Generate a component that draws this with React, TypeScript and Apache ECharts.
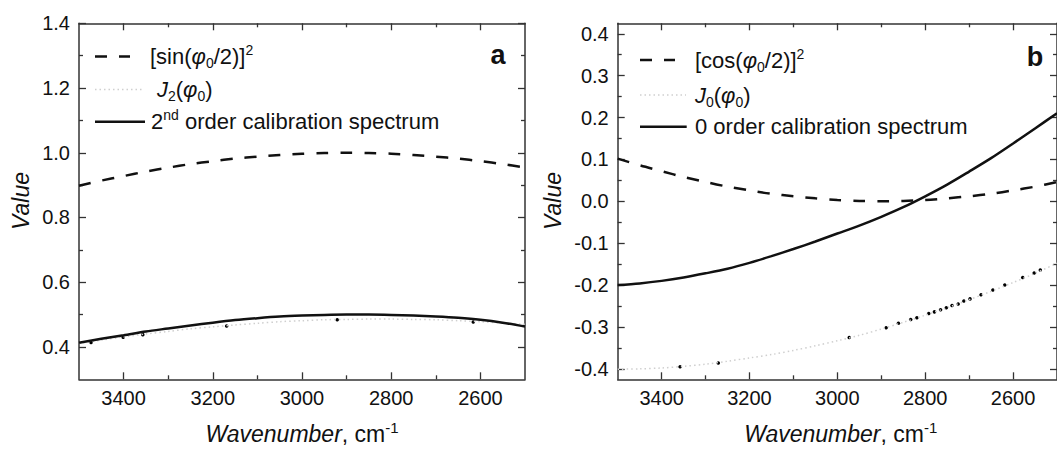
import React, { useEffect, useRef } from 'react';
import * as echarts from 'echarts';

// ---------- data ----------
const wavenumbers = [3500, 3450, 3400, 3350, 3300, 3250, 3200, 3150, 3100, 3050, 3000, 2950, 2900, 2850, 2800, 2750, 2700, 2650, 2600, 2550, 2500];
// panel a
const sinSq = [0.898, 0.914, 0.928, 0.942, 0.954, 0.965, 0.974, 0.982, 0.988, 0.993, 0.997, 0.999, 1.0, 0.999, 0.997, 0.993, 0.988, 0.982, 0.974, 0.965, 0.954];
const j2 = [0.411, 0.421, 0.431, 0.44, 0.448, 0.456, 0.462, 0.468, 0.473, 0.478, 0.481, 0.484, 0.485, 0.486, 0.486, 0.485, 0.484, 0.481, 0.478, 0.474, 0.47];
const cal2 = [0.413, 0.425, 0.436, 0.448, 0.457, 0.466, 0.475, 0.483, 0.489, 0.494, 0.497, 0.499, 0.5, 0.5, 0.499, 0.497, 0.494, 0.49, 0.484, 0.475, 0.463];
const j2Points = [[3473, 0.414], [3401, 0.43], [3357, 0.438], [3169, 0.465], [2921, 0.484], [2616, 0.477]];
// panel b
const cosSq = [0.102, 0.086, 0.072, 0.058, 0.046, 0.035, 0.026, 0.018, 0.012, 0.007, 0.003, 0.001, 0.0, 0.001, 0.003, 0.007, 0.012, 0.018, 0.026, 0.035, 0.046];
const j0 = [-0.401, -0.4, -0.398, -0.394, -0.389, -0.382, -0.374, -0.366, -0.356, -0.345, -0.333, -0.32, -0.305, -0.289, -0.272, -0.254, -0.235, -0.215, -0.194, -0.172, -0.148];
const cal0 = [-0.2, -0.196, -0.19, -0.182, -0.172, -0.161, -0.147, -0.131, -0.114, -0.096, -0.077, -0.058, -0.037, -0.014, 0.012, 0.04, 0.071, 0.103, 0.138, 0.174, 0.21];
const j0Points = [[3358, -0.395], [3271, -0.386], [2973, -0.325], [2889, -0.302], [2861, -0.291], [2833, -0.282], [2819, -0.278], [2792, -0.268], [2779, -0.264], [2765, -0.259], [2752, -0.254], [2739, -0.249], [2725, -0.245], [2712, -0.238], [2698, -0.233], [2673, -0.223], [2646, -0.212], [2619, -0.2], [2578, -0.182], [2552, -0.171], [2538, -0.164]];

// ticks
const xMajorTicks = [2600, 2800, 3000, 3200, 3400];
const xMinorTicks = [2700, 2900, 3100, 3300];
const yMajorA = [0.4, 0.6, 0.8, 1.0, 1.2, 1.4];
const yMinorA = [0.5, 0.7, 0.9, 1.1, 1.3];
const yMajorB = [-0.4, -0.3, -0.2, -0.1, 0.0, 0.1, 0.2, 0.3, 0.4];
const yMinorB = [-0.35, -0.25, -0.15, -0.05, 0.05, 0.15, 0.25, 0.35];

const FONT = "'Liberation Sans', Arial, Helvetica, sans-serif";
const AX = '#333333';
const INK = '#111111';

const pairs = (ys: number[]) => wavenumbers.map((w, i) => [w, ys[i]]);

function xAxesFor(grid: number) {
  const base: any = { gridIndex: grid, type: 'value', min: 2500, max: 3500, inverse: true, splitLine: { show: false } };
  const line = { show: true, onZero: false, lineStyle: { color: AX, width: 1.5 } };
  const tick = (vals: number[], len: number) => ({ show: true, inside: true, length: len, customValues: vals, lineStyle: { color: AX, width: 1.3 } });
  return [
    { ...base, position: 'bottom', axisLine: line, axisTick: tick(xMajorTicks, 7),
      axisLabel: { show: true, customValues: xMajorTicks, fontSize: 20, color: INK, fontFamily: FONT, margin: 9, formatter: (v: number) => String(Math.round(v)) } },
    { ...base, position: 'bottom', axisLine: { show: false, onZero: false }, axisTick: tick(xMinorTicks, 4), axisLabel: { show: false } },
    { ...base, position: 'top', axisLine: line, axisTick: tick(xMajorTicks, 7), axisLabel: { show: false } },
    { ...base, position: 'top', axisLine: { show: false, onZero: false }, axisTick: tick(xMinorTicks, 4), axisLabel: { show: false } },
  ];
}

function yAxesFor(grid: number, min: number, max: number, major: number[], minor: number[]) {
  const base: any = { gridIndex: grid, type: 'value', min, max, splitLine: { show: false } };
  const line = { show: true, onZero: false, lineStyle: { color: AX, width: 1.5 } };
  const tick = (vals: number[], len: number) => ({ show: true, inside: true, length: len, customValues: vals, lineStyle: { color: AX, width: 1.3 } });
  return [
    { ...base, position: 'left', axisLine: line, axisTick: tick(major, 7),
      axisLabel: { show: true, customValues: major, fontSize: 20, color: INK, fontFamily: FONT, margin: 9, formatter: (v: number) => v.toFixed(1) } },
    { ...base, position: 'left', axisLine: { show: false, onZero: false }, axisTick: tick(minor, 4), axisLabel: { show: false } },
    { ...base, position: 'right', axisLine: line, axisTick: tick(major, 7), axisLabel: { show: false } },
    { ...base, position: 'right', axisLine: { show: false, onZero: false }, axisTick: tick(minor, 4), axisLabel: { show: false } },
  ];
}

const rich = {
  n: { fontSize: 22, fontFamily: FONT, fill: INK },
  i: { fontSize: 22, fontFamily: FONT, fontStyle: 'italic', fill: INK },
  sub: { fontSize: 14, fontFamily: FONT, fill: INK, padding: [13, 0, 0, 0] },
  sup: { fontSize: 14, fontFamily: FONT, fill: INK, padding: [0, 0, 13, 0] },
};
const titleRich = {
  i: { fontSize: 23, fontFamily: FONT, fontStyle: 'italic', fill: INK },
  n: { fontSize: 23, fontFamily: FONT, fill: INK },
  s: { fontSize: 15, fontFamily: FONT, fill: INK, padding: [0, 0, 14, 0] },
};

function txt(x: number, y: number, text: string, r: any, align = 'left', rotation = 0) {
  return { type: 'text', x, y, rotation, silent: true, style: { text, rich: r, align, verticalAlign: 'middle', fill: INK } };
}
function sample(x1: number, x2: number, y: number, kind: string) {
  const style: any = { stroke: INK, lineWidth: 2.5 };
  if (kind === 'dash') style.lineDash = [12, 12];
  if (kind === 'dot') { style.stroke = '#cfcfcf'; style.lineWidth = 1.5; style.lineDash = [1.5, 3]; }
  if (kind === 'solid') style.lineWidth = 2.5;
  return { type: 'line', silent: true, shape: { x1, y1: y, x2, y2: y }, style };
}

export default function App() {
  const ref = useRef<HTMLDivElement>(null);
  useEffect(() => {
    if (!ref.current) return;
    const chart = echarts.init(ref.current, null, { renderer: 'svg' });
    const dashed = { color: INK, width: 2.5, type: [12, 12] };
    const solid = { color: INK, width: 2.5, type: 'solid' };
    const dotted = { color: '#cfcfcf', width: 1.5, type: [1.5, 3] };
    const lineSeries = (name: string, data: any, ls: any, xi: number, yi: number) => ({
      name, type: 'line', data, xAxisIndex: xi, yAxisIndex: yi, showSymbol: false, symbol: 'none', smooth: 0.3, lineStyle: ls, silent: true,
    });
    const dotSeries = (name: string, data: any, xi: number, yi: number) => ({
      name, type: 'scatter', data, xAxisIndex: xi, yAxisIndex: yi, symbol: 'circle', symbolSize: 3.5,
      itemStyle: { color: '#000000', opacity: 1, borderWidth: 0 }, silent: true,
    });
    chart.setOption({
      animation: false,
      backgroundColor: '#ffffff',
      grid: [
        { left: 79, top: 23.3, width: 446, height: 356 },
        { left: 617.7, top: 23.3, width: 446, height: 356 },
      ],
      xAxis: [...xAxesFor(0), ...xAxesFor(1)],
      yAxis: [...yAxesFor(0, 0.3, 1.4, yMajorA, yMinorA), ...yAxesFor(1, -0.425, 0.425, yMajorB, yMinorB)],
      series: [
        lineSeries('[sin(φ0/2)]^2', pairs(sinSq), dashed, 0, 0),
        lineSeries('J2(φ0)', pairs(j2), dotted, 0, 0),
        dotSeries('J2 points', j2Points, 0, 0),
        lineSeries('2nd order calibration spectrum', pairs(cal2), solid, 0, 0),
        lineSeries('[cos(φ0/2)]^2', pairs(cosSq), dashed, 4, 4),
        lineSeries('J0(φ0)', pairs(j0), dotted, 4, 4),
        dotSeries('J0 points', j0Points, 4, 4),
        lineSeries('0 order calibration spectrum', pairs(cal0), solid, 4, 4),
      ],
      graphic: [
        // panel a legend
        sample(95, 130, 56.5, 'dash'),
        txt(150, 56.5, '{n|[sin(}{i|φ}{sub|0}{n|/2)]}{sup|2}', rich),
        sample(95, 142, 89.5, 'dot'),
        txt(157, 89.5, '{i|J}{sub|2}{n|(}{i|φ}{sub|0}{n|)}', rich),
        sample(95, 145, 121.7, 'solid'),
        txt(151, 121.7, '{n|2}{sup|nd}{n| order calibration spectrum}', rich),
        // panel b legend
        sample(640, 675, 60, 'dash'),
        txt(695, 60, '{n|[cos(}{i|φ}{sub|0}{n|/2)]}{sup|2}', rich),
        sample(640, 686, 95, 'dot'),
        txt(695, 95, '{i|J}{sub|0}{n|(}{i|φ}{sub|0}{n|)}', rich),
        sample(640, 686.7, 126.7, 'solid'),
        txt(695, 126.7, '{n|0 order calibration spectrum}', rich),
        // panel letters
        { type: 'text', x: 498, y: 55, silent: true, style: { text: 'a', fontSize: 27, fontWeight: 'bold', fontFamily: FONT, fill: INK, align: 'center', verticalAlign: 'middle' } },
        { type: 'text', x: 1035, y: 57, silent: true, style: { text: 'b', fontSize: 27, fontWeight: 'bold', fontFamily: FONT, fill: INK, align: 'center', verticalAlign: 'middle' } },
        // axis titles
        txt(302, 434, '{i|Wavenumber}{n|, cm}{s|-1}', titleRich, 'center'),
        txt(840.7, 434, '{i|Wavenumber}{n|, cm}{s|-1}', titleRich, 'center'),
        txt(21, 201, '{i|Value}', titleRich, 'center', Math.PI / 2),
        txt(553, 201, '{i|Value}', titleRich, 'center', Math.PI / 2),
      ],
    });
    return () => chart.dispose();
  }, []);
  return <div ref={ref} style={{ position: 'absolute', left: 0, top: 0, width: 1057, height: 449 }} />;
}
